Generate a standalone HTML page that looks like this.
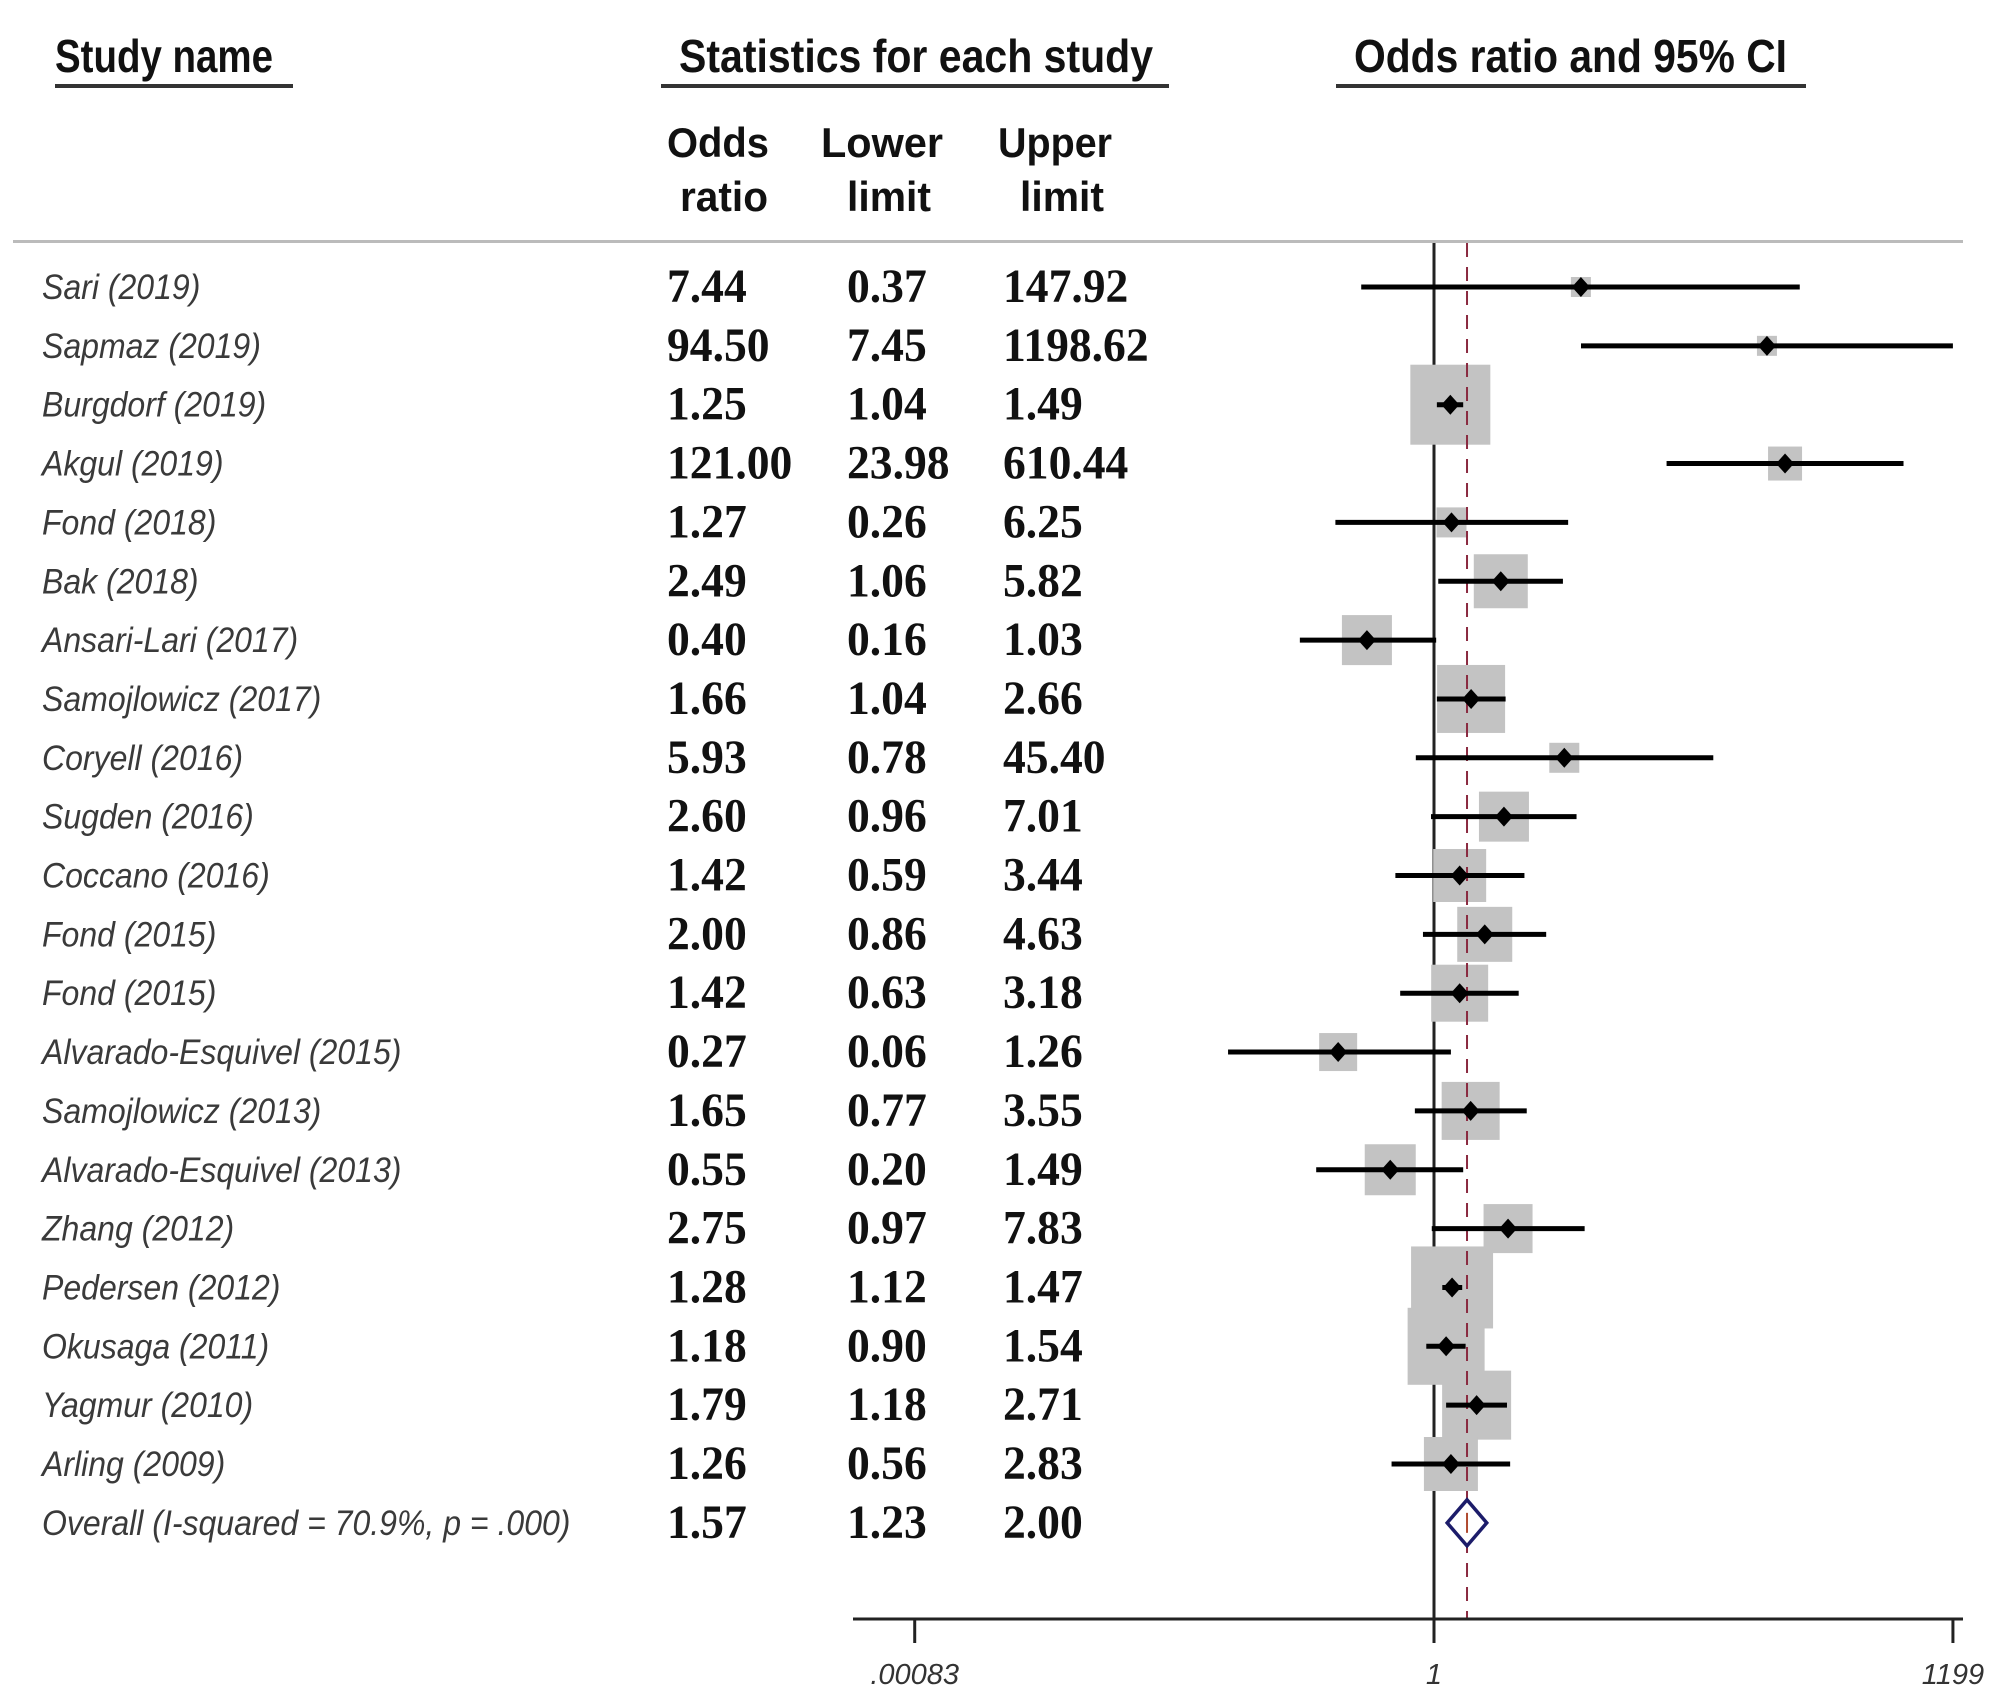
<!DOCTYPE html>
<html><head><meta charset="utf-8"><style>
html,body{margin:0;padding:0;background:#fff;}
svg{display:block;}
</style></head><body>
<svg id="chart" width="2008" height="1700" viewBox="0 0 2008 1700" xmlns="http://www.w3.org/2000/svg">
<g id="headers" font-family="Liberation Sans, Arial, sans-serif" font-weight="bold" fill="#111">
  <text x="55" y="72" font-size="46" textLength="218" lengthAdjust="spacingAndGlyphs">Study name</text>
  <rect x="55" y="84" width="238" height="4" fill="#333"/>
  <text x="679" y="72" font-size="46" textLength="474" lengthAdjust="spacingAndGlyphs">Statistics for each study</text>
  <rect x="661" y="84" width="508" height="4" fill="#333"/>
  <text x="1354" y="72" font-size="46" textLength="433" lengthAdjust="spacingAndGlyphs">Odds ratio and 95% CI</text>
  <rect x="1336" y="84" width="470" height="4" fill="#333"/>
  <text x="718" y="157" font-size="42" text-anchor="middle" textLength="102" lengthAdjust="spacingAndGlyphs">Odds</text>
  <text x="724" y="211" font-size="42" text-anchor="middle" textLength="88" lengthAdjust="spacingAndGlyphs">ratio</text>
  <text x="882" y="157" font-size="42" text-anchor="middle" textLength="122" lengthAdjust="spacingAndGlyphs">Lower</text>
  <text x="889" y="211" font-size="42" text-anchor="middle" textLength="84" lengthAdjust="spacingAndGlyphs">limit</text>
  <text x="1055" y="157" font-size="42" text-anchor="middle" textLength="114" lengthAdjust="spacingAndGlyphs">Upper</text>
  <text x="1062" y="211" font-size="42" text-anchor="middle" textLength="84" lengthAdjust="spacingAndGlyphs">limit</text>
</g>
<rect x="13" y="240" width="1950" height="3" fill="#bbb"/>
<g id="rows"></g>
<g id="plot"></g>
</svg>
<script>
const studies = ["Sari (2019)","Sapmaz  (2019)","Burgdorf  (2019)","Akgul (2019)","Fond  (2018)","Bak (2018)","Ansari-Lari (2017)","Samojlowicz (2017)","Coryell (2016)","Sugden (2016)","Coccano (2016)","Fond (2015)","Fond (2015)","Alvarado-Esquivel (2015)","Samojlowicz  (2013)","Alvarado-Esquivel (2013)","Zhang (2012)","Pedersen (2012)","Okusaga (2011)","Yagmur (2010)","Arling (2009)"];
const oddsRatios = [7.44,94.50,1.25,121.00,1.27,2.49,0.40,1.66,5.93,2.60,1.42,2.00,1.42,0.27,1.65,0.55,2.75,1.28,1.18,1.79,1.26];
const lowerLimits = [0.37,7.45,1.04,23.98,0.26,1.06,0.16,1.04,0.78,0.96,0.59,0.86,0.63,0.06,0.77,0.20,0.97,1.12,0.90,1.18,0.56];
const upperLimits = [147.92,1198.62,1.49,610.44,6.25,5.82,1.03,2.66,45.40,7.01,3.44,4.63,3.18,1.26,3.55,1.49,7.83,1.47,1.54,2.71,2.83];
const weights = [20,20,80,34,30,54,50,68,30,50,53,55,57,38,58,51,49,82,77,69,54];
const overallLabel = "Overall  (I-squared = 70.9%, p = .000)";
const overall = [1.57,1.23,2.00];
const tickValues = [0.00083,1,1199];
const tickLabels = [".00083","1","1199"];

const NS="http://www.w3.org/2000/svg";
const X0=1434, PX=73.2;
function xScale(v){return X0+Math.log(v)*PX;}
const Y0=287, DY=58.85;
function yScale(i){return Y0+i*DY;}
function fmt(v){return v.toFixed(2);}
function mk(tag,attrs,parent){const e=document.createElementNS(NS,tag);for(const k in attrs)e.setAttribute(k,attrs[k]);parent.appendChild(e);return e;}
const rows=document.getElementById('rows');
const plot=document.getElementById('plot');

function addNum(txt,x,y,name){
  const g=mk('g',{transform:`translate(${x},${y+15}) scale(0.95,1)`},rows);
  
  
  const t=mk('text',{x:0,y:0,'font-family':'Liberation Serif, Times New Roman, serif','font-weight':'bold','font-size':'48',fill:'#111'},g);
  t.textContent=txt;
}
function addLabel(txt,y,name){
  const g=mk('g',{transform:`translate(42,${y+12}) scale(0.915,1)`},rows);
  
  
  const t=mk('text',{x:0,y:0,'font-family':'Liberation Sans, Arial, sans-serif','font-style':'italic','font-size':'35',fill:'#3a3a3a'},g);
  t.textContent=txt;
}
const allLabels=studies.concat([overallLabel]);
const allOR=oddsRatios.concat([overall[0]]);
const allLo=lowerLimits.concat([overall[1]]);
const allHi=upperLimits.concat([overall[2]]);
for(let i=0;i<allLabels.length;i++){
  const y=yScale(i);
  addLabel(allLabels[i],y,'study-label');
  addNum(fmt(allOR[i]),667,y,'odds-ratio-value');
  addNum(fmt(allLo[i]),847,y,'lower-limit-value');
  addNum(fmt(allHi[i]),1003,y,'upper-limit-value');
}

const yTop=243, yAxis=1619;
const nl=mk('line',{x1:X0,y1:yTop,x2:X0,y2:yAxis,stroke:'#222','stroke-width':3},plot);



for(let i=0;i<studies.length;i++){
  const y=yScale(i), cx=xScale(oddsRatios[i]), s=weights[i];
  const b=mk('rect',{x:cx-s/2,y:y-s/2,width:s,height:s,fill:'#c3c3c3'},plot);
  
  
}
const xo=xScale(overall[0]);
const dl=mk('line',{x1:xo,y1:yTop,x2:xo,y2:yAxis,stroke:'#8a2a40','stroke-width':2,'stroke-dasharray':'14,10'},plot);



for(let i=0;i<studies.length;i++){
  const y=yScale(i), cx=xScale(oddsRatios[i]);
  const l=mk('line',{x1:xScale(lowerLimits[i]),y1:y,x2:xScale(upperLimits[i]),y2:y,stroke:'#000','stroke-width':5},plot);
  
  
  const p=mk('polygon',{points:`${cx-9},${y} ${cx},${y-10} ${cx+9},${y} ${cx},${y+10}`,fill:'#000'},plot);
  
  
}
const yd=yScale(studies.length);
const dm=mk('polygon',{points:`${xScale(overall[1])-2},${yd} ${xo},${yd-23} ${xScale(overall[2])+2},${yd} ${xo},${yd+23}`,fill:'#fff',stroke:'#1c1c6a','stroke-width':3.5},plot);


mk('line',{x1:xo,y1:yd-10,x2:xo,y2:yd+10,stroke:'#b04a30','stroke-width':2},plot);

const ax=mk('line',{x1:853,y1:yAxis,x2:1963,y2:yAxis,stroke:'#222','stroke-width':3},plot);


for(let i=0;i<tickValues.length;i++){
  const x=xScale(tickValues[i]);
  const t=mk('line',{x1:x,y1:yAxis,x2:x,y2:yAxis+24,stroke:'#222','stroke-width':3},plot);
  
  
  const lb=mk('text',{x:x,y:1684,'text-anchor':'middle','font-family':'Liberation Sans, Arial, sans-serif','font-style':'italic','font-size':'29',fill:'#333'},plot);
  
  
  lb.textContent=tickLabels[i];
}
</script>
</body></html>
